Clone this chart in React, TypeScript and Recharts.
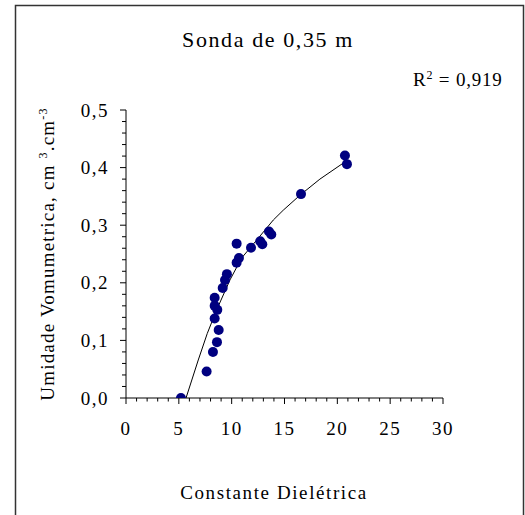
import { Scatter, ScatterChart, XAxis, YAxis } from "recharts";

// measured points: constante dielétrica (x) vs umidade volumétrica (y)
const dielectric = [5.2, 7.63, 8.23, 8.61, 8.77, 8.39, 8.39, 8.64, 8.39, 9.15, 9.37, 9.55, 10.47, 10.69, 10.47, 11.83, 12.7, 12.9, 13.53, 13.75, 16.56, 20.72, 20.91];
const moisture = [0.0, 0.046, 0.08, 0.097, 0.118, 0.138, 0.16, 0.153, 0.174, 0.191, 0.205, 0.215, 0.235, 0.243, 0.268, 0.261, 0.272, 0.267, 0.289, 0.284, 0.354, 0.421, 0.406];

// fitted curve
const fitX = [5.68, 6.84, 7.69, 8.58, 9.84, 10.94, 12.36, 13.94, 14.88, 16.46, 18.35, 20.97];
const fitY = [0.0, 0.066, 0.112, 0.153, 0.205, 0.243, 0.274, 0.309, 0.326, 0.352, 0.38, 0.413];

const xMajor = [0, 5, 10, 15, 20, 25, 30];
const yMajor = [0, 0.1, 0.2, 0.3, 0.4, 0.5];

const title = "Sonda de 0,35 m";
const r2 = "0,919";
const xTitle = "Constante Dielétrica";

const points = dielectric.map((x, i) => ({ x, y: moisture[i] }));
const fit = fitX.map((x, i) => ({ x, y: fitY[i] }));

const xTicks = Array.from({ length: 31 }, (_, i) => i);
const yTicks = Array.from({ length: 26 }, (_, i) => Math.round(i * 2) / 100);

const FONT = "'Liberation Serif', 'Times New Roman', serif";

function XTick({ x, y, payload }: any) {
  const major = xMajor.includes(payload.value);
  return (
    <g>
      <line x1={x} x2={x} y1={y} y2={y + (major ? 6 : 3.5)} stroke="#000" />
      {major && (
        <text x={x} y={y + 37} textAnchor="middle" fontFamily={FONT} fontSize={19} letterSpacing={1.5} fill="#000">
          {payload.value}
        </text>
      )}
    </g>
  );
}

function YTick({ x, y, payload }: any) {
  const major = yMajor.some((v) => Math.abs(v - payload.value) < 1e-6);
  return (
    <g>
      <line x1={x} x2={x - (major ? 6 : 4)} y1={y} y2={y} stroke="#000" />
      {major && (
        <text x={x - 17} y={y + 6.5} textAnchor="end" fontFamily={FONT} fontSize={19} letterSpacing={1.5} fill="#000">
          {payload.value.toFixed(1).replace(".", ",")}
        </text>
      )}
    </g>
  );
}

export default function App() {
  return (
    <div style={{ position: "absolute", left: 0, top: 0, width: 525, height: 515, background: "#fff" }}>
      <ScatterChart width={525} height={515} margin={{ top: 110, right: 82, bottom: 87, left: 66 }}>
        <XAxis
          type="number"
          dataKey="x"
          domain={[0, 30]}
          ticks={xTicks}
          interval={0}
          height={30}
          tickSize={0}
          tickMargin={0}
          tickLine={false}
          axisLine={{ stroke: "#000" }}
          tick={<XTick />}
          allowDataOverflow
        />
        <YAxis
          type="number"
          dataKey="y"
          domain={[0, 0.5]}
          ticks={yTicks}
          interval={0}
          width={60}
          tickSize={0}
          tickMargin={0}
          tickLine={false}
          axisLine={{ stroke: "#000" }}
          tick={<YTick />}
          allowDataOverflow
        />
        <Scatter data={fit} line={{ stroke: "#000", strokeWidth: 1 }} shape={() => <g />} isAnimationActive={false} />
        <Scatter data={points} fill="#000080" shape={(p: any) => <circle cx={p.cx} cy={p.cy} r={5} fill="#000080" />} isAnimationActive={false} />
      </ScatterChart>
      <svg width={525} height={515} style={{ position: "absolute", left: 0, top: 0, pointerEvents: "none" }}>
        <rect x={15.5} y={5.5} width={508} height={540} fill="none" stroke="#333" strokeWidth={1.5} />
        <text x={268} y={47} textAnchor="middle" fontFamily={FONT} fontSize={22} letterSpacing={1.6} fill="#000">
          {title}
        </text>
        <text x={413} y={86} fontFamily={FONT} fontSize={19} letterSpacing={0.8} fill="#000">
          R<tspan fontSize={12} dy={-7}>2</tspan>
          <tspan dy={7}> = {r2}</tspan>
        </text>
        <text x={274} y={499} textAnchor="middle" fontFamily={FONT} fontSize={19} letterSpacing={1.6} fill="#000">
          {xTitle}
        </text>
        <text transform="translate(54,254) rotate(-90)" textAnchor="middle" fontFamily={FONT} fontSize={19} letterSpacing={1.2} fill="#000">
          Umidade Vomumetrica, cm <tspan fontSize={12} dy={-7}>3</tspan>
          <tspan dy={7}>.cm</tspan>
          <tspan fontSize={12} dy={-7}>-3</tspan>
        </text>
      </svg>
    </div>
  );
}
